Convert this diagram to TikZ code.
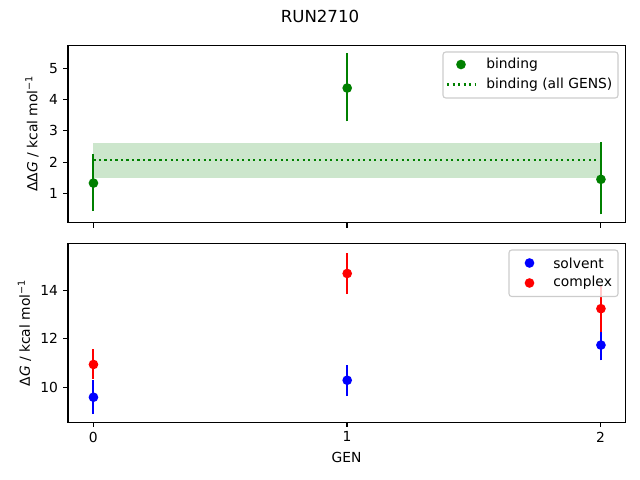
\documentclass[tikz,border=0pt]{standalone}
\usepackage{fontspec}
\setmainfont{DejaVu Sans}
\definecolor{mgreen}{HTML}{008000}
\definecolor{mblue}{HTML}{0000FF}
\definecolor{mred}{HTML}{FF0000}
\definecolor{band}{HTML}{CCE6CC}
\begin{document}
\begin{tikzpicture}[x=0.01in,y=-0.01in,
  frame/.style={line width=0.8pt},
  tick/.style={line width=0.8pt},
  ticklab/.style={font=\fontsize{10}{12}\selectfont, inner sep=0pt},
  ebar/.style={line width=1.5pt},
  mk/.style={circle, inner sep=0pt, minimum size=7pt},
  legbox/.style={draw=black!20, fill=white, fill opacity=0.8, line width=0.8pt, rounded corners=2pt},
  lab/.style={font=\fontsize{10}{12}\selectfont, inner sep=0pt}]
\useasboundingbox (0,0) rectangle (640,480);
% title
\node[font=\fontsize{12}{14}\selectfont] (title) at (320,16) {RUN2710};

% ===== top axes =====
\begin{scope}[x=2.536in, y=0.3125in, shift={(0.934in,-2.2455in)}]
  \fill[band] (0,1.5) rectangle (2,2.62);
  \draw[mgreen, line width=1.5pt, dash pattern=on 1.5pt off 2.475pt] (0,2.07) -- (2,2.07);
  \draw[ebar, mgreen] (0,0.43) -- (0,2.27);
  \node[mk, fill=mgreen] (b0) at (0,1.33) {};
  \draw[ebar, mgreen] (1,3.3) -- (1,5.5);
  \node[mk, fill=mgreen] (b1) at (1,4.37) {};
  \draw[ebar, mgreen] (2,0.33) -- (2,2.65);
  \node[mk, fill=mgreen] (b2) at (2,1.45) {};
\end{scope}
\draw[frame] (68,45.7) rectangle (625.7,222.7);
% top y ticks
\foreach \v/\yy in {1/193.3,2/162.1,3/130.8,4/99.6,5/68.3}{
  \draw[tick] (68,\yy) -- (63.1,\yy);
  \node[ticklab, anchor=east] at (58.3,\yy) {\v};
}
% top x ticks
\foreach \xx in {93.4,347,600.6}{
  \draw[tick] (\xx,222.7) -- (\xx,227.6);
}
\node[lab, rotate=90] (ylab1) at (32,133.5) {ΔΔ\textit{G} / kcal mol\textsuperscript{−1}};
% legend top
\draw[legbox] (443,52) rectangle (618,98);
\node[mk, fill=mgreen] (lb) at (461,64.5) {};
\node[lab, anchor=west] at (486,64.5) {binding};
\draw[mgreen, line width=1.5pt, dash pattern=on 1.5pt off 2.475pt] (447,84.5) -- (476,84.5);
\node[lab, anchor=west] at (486,84.5) {binding (all GENS)};

% ===== bottom axes =====
\begin{scope}[x=2.536in, y=0.2425in, shift={(0.934in,-6.298in)}]
  \draw[ebar, mblue] (0,8.9) -- (0,10.3);
  \node[mk, fill=mblue] (s0) at (0,9.6) {};
  \draw[ebar, mblue] (1,9.65) -- (1,10.92);
  \node[mk, fill=mblue] (s1) at (1,10.3) {};
  \draw[ebar, mblue] (2,11.12) -- (2,12.3);
  \node[mk, fill=mblue] (s2) at (2,11.75) {};
  \draw[ebar, mred] (0,10.35) -- (0,11.6);
  \node[mk, fill=mred] (c0) at (0,10.95) {};
  \draw[ebar, mred] (1,13.85) -- (1,15.55);
  \node[mk, fill=mred] (c1) at (1,14.7) {};
  \draw[ebar, mred] (2,12.3) -- (2,14.2);
  \node[mk, fill=mred] (c2) at (2,13.25) {};
\end{scope}
\draw[frame] (68,243.3) rectangle (625.7,422.3);
\foreach \v/\yy in {10/387.3,12/338.8,14/290.3}{
  \draw[tick] (68,\yy) -- (63.1,\yy);
  \node[ticklab, anchor=east] at (58.3,\yy) {\v};
}
\foreach \v/\xx in {0/93.4,1/347,2/600.6}{
  \draw[tick] (\xx,422.3) -- (\xx,427.2);
  \node[ticklab, anchor=north] at (\xx,431.5) {\v};
}
\node[lab, rotate=90] (ylab2) at (24.5,333) {Δ\textit{G} / kcal mol\textsuperscript{−1}};
\node[lab] (xlab) at (346.5,457.5) {GEN};
% legend bottom
\draw[legbox] (509,250) rectangle (618,296.5);
\node[mk, fill=mblue] (ls) at (529.5,263) {};
\node[lab, anchor=west] at (553,263) {solvent};
\node[mk, fill=mred] (lc) at (529.5,283) {};
\node[lab, anchor=west] at (553,283) {complex};
\end{tikzpicture}
\end{document}
